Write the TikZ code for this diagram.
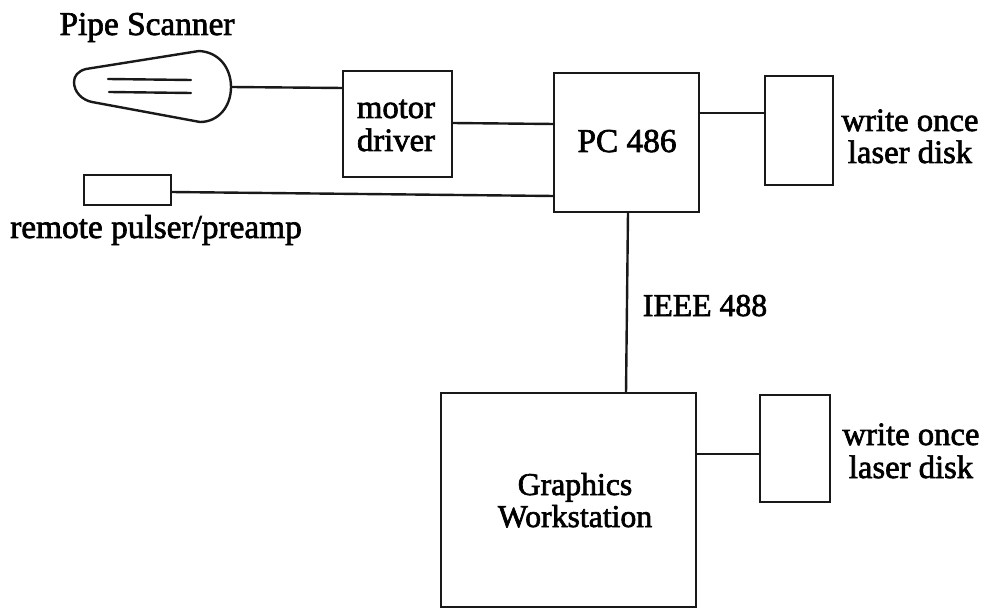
\documentclass[tikz,border=0pt]{standalone}
\usepackage{fontspec}
\setmainfont[FakeBold=2]{Liberation Serif}
\tikzset{
  px/.style={x=0.75pt,y=-0.75pt},
  ln/.style={line width=1.8pt,black!90,line cap=round},
  boxn/.style={draw=black!90,line width=1.8pt,fill=white,inner sep=0pt,outer sep=0pt,anchor=north west},
  lab/.style={font=\fontsize{#1}{24}\selectfont,align=center,text=black,inner sep=0pt,anchor=base},
  lab/.default=24
}
\begin{document}
\begin{tikzpicture}[px]
\useasboundingbox (0,0) rectangle (987,609);
\node[boxn,minimum width=81.75pt,minimum height=79.5pt] (motor) at (343,71) {};
\node[boxn,minimum width=108.75pt,minimum height=104.25pt] (pc) at (554,73) {};
\node[boxn,minimum width=51pt,minimum height=81.75pt] (d1) at (765,76) {};
\node[boxn,minimum width=65.25pt,minimum height=22.5pt] (pulser) at (84,175) {};
\node[boxn,minimum width=191.25pt,minimum height=160.5pt] (gw) at (441,393) {};
\node[boxn,minimum width=52.5pt,minimum height=80.25pt] (d2) at (760,395) {};
\node[lab=24.5] (t1) at (396,118) {motor};
\node[lab=24.5] (t2) at (396,151) {driver};
\node[lab=25] (t3) at (627,152) {PC 486};
\node[lab=24.5] (t4) at (910,131) {write once};
\node[lab=24.5] (t5) at (910,163) {laser disk};
\node[lab=24.5] (t6) at (911,445) {write once};
\node[lab=24.5] (t7) at (911,478) {laser disk};
\node[lab=23.8] (t8) at (575,495) {Graphics};
\node[lab=23.8] (t9) at (575,527) {Workstation};
\node[lab=25] (t10) at (147,35) {Pipe Scanner};
\node[lab=25] (t11) at (156,238) {remote pulser/preamp};
\node[lab=23.8] (t12) at (705,316) {IEEE 488};
\coordinate (scanR) at (231,87);
\draw[ln] (199,51) .. controls (219,52) and (231,68) .. (231,87)
  .. controls (231,107) and (218,122) .. (200,122)
  -- (173,117) -- (92,102)
  .. controls (82,100) and (74,92) .. (74,82)
  .. controls (74,76) and (78,71) .. (86,69) -- cycle;
\draw[ln] (108,79) -- (191,80) (109,92) -- (191,93);
\draw[ln] (scanR) -- (motor.west |- 0,88);
\draw[ln] (motor.east |- 0,123) -- (pc.west |- 0,124);
\draw[ln] (pc.east |- 0,113) -- (d1.west |- 0,113);
\draw[ln] (pulser.east |- 0,192) -- (pc.west |- 0,196);
\draw[ln] (pc.south -| 628,0) -- (gw.north -| 626,0);
\draw[ln] (gw.east |- 0,454) -- (d2.west |- 0,454);
\end{tikzpicture}
\end{document}
